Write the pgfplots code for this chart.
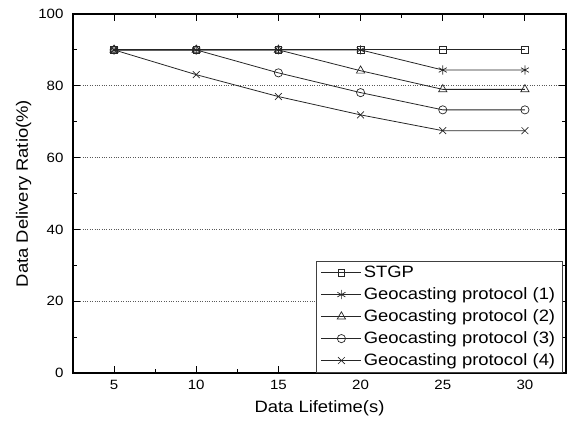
\documentclass[border=0pt]{standalone}
\usepackage{fontspec}
\setmainfont{Liberation Sans}[FakeStretch=1.12]
\usepackage{pgfplots}
\pgfplotsset{compat=1.18}
\begin{document}
\begin{tikzpicture}
\begin{axis}[
  scale only axis, width=493bp, height=359bp,
  xmin=2.5, xmax=32.5, ymin=0, ymax=100,
  xtick={5,10,...,30}, minor xtick={7.5,12.5,...,27.5},
  ytick={0,20,...,100}, minor ytick={10,30,...,90},
  tick align=inside, major tick length=7bp, minor tick length=4bp,
  axis line style={line width=1.1bp},
  every tick/.style={black, line width=1bp},
  ymajorgrids, grid style={dotted, black!65, line width=0.6bp},
  /pgf/number format/assume math mode=true,
  tick label style={font=\fontsize{13.5}{15}\selectfont},
  xticklabel style={yshift=-4bp},
  yticklabel style={xshift=-6bp},
  xlabel={Data Lifetime(s)}, ylabel={Data Delivery Ratio(\%)},
  label style={font=\fontsize{16.5}{19}\selectfont},
  xlabel style={at={(axis description cs:0.5,-0.097)}, anchor=center},
  ylabel style={at={(axis description cs:-0.1,0.5)}, anchor=center},
  legend style={at={(axis description cs:0.993,0)}, anchor=south east,
    draw=black!75, line width=0.8bp, font=\fontsize{16.5}{19}\selectfont,
    cells={anchor=west}, inner xsep=5bp, inner ysep=1bp,
    nodes={inner ysep=4.3bp}},
  legend image code/.code={\draw[mark repeat=2,mark phase=2,#1]
    plot coordinates {(0bp,0bp)(20bp,0bp)(40bp,0bp)};},
  every axis plot/.append style={black!85, line width=0.8bp,
    mark options={solid, fill=white, line width=0.7bp}},
]
\addplot[mark=square, mark size=3.3bp] coordinates {(5,90)(10,90)(15,90)(20,90)(25,90)(30,90)};
\addplot[mark=asterisk, mark size=4.6bp] coordinates {(5,90)(10,90)(15,90)(20,90)(25,84.4)(30,84.4)};
\addplot[mark=triangle, mark size=4.8bp] coordinates {(5,90)(10,90)(15,90)(20,84.2)(25,79.0)(30,79.0)};
\addplot[mark=o, mark size=4.1bp] coordinates {(5,90)(10,90)(15,83.6)(20,78.1)(25,73.3)(30,73.3)};
\addplot[mark=x, mark size=4.8bp] coordinates {(5,90)(10,83.1)(15,77.0)(20,71.9)(25,67.5)(30,67.5)};
\legend{STGP, Geocasting protocol (1), Geocasting protocol (2), Geocasting protocol (3), Geocasting protocol (4)}
\end{axis}
\pgfresetboundingbox
\path (current axis.south west) ++(-73bp,-52bp) coordinate (bl);
\path (current axis.north east) ++(1bp,14bp) coordinate (tr);
\path[use as bounding box] (bl) rectangle (tr);
\end{tikzpicture}
\end{document}
